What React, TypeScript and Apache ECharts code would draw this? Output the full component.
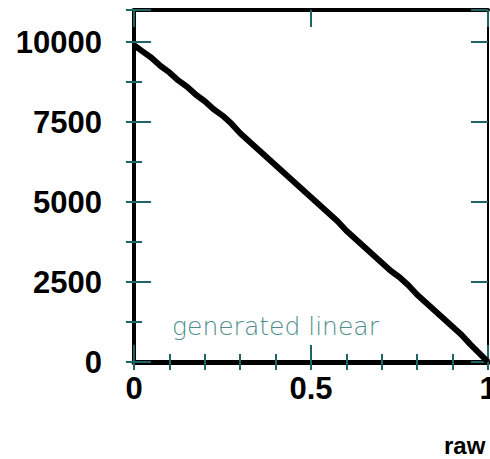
import React, { useEffect, useRef } from "react";
import * as echarts from "echarts";

const xValues = [
  0, 0.025, 0.05, 0.075, 0.1, 0.125, 0.15, 0.175, 0.2, 0.225, 0.25, 0.275, 0.3,
  0.325, 0.35, 0.375, 0.4, 0.425, 0.45, 0.475, 0.5, 0.525, 0.55, 0.575, 0.6,
  0.625, 0.65, 0.675, 0.7, 0.725, 0.75, 0.775, 0.8, 0.825, 0.85, 0.875, 0.9,
  0.925, 0.95, 0.975, 1.0,
];
const yValues = [
  9900, 9700, 9500, 9250, 9050, 8800, 8600, 8350, 8150, 7900, 7700, 7450, 7150,
  6900, 6650, 6400, 6150, 5900, 5650, 5400, 5150, 4900, 4650, 4400, 4100, 3850,
  3600, 3350, 3100, 2850, 2650, 2400, 2100, 1850, 1600, 1350, 1100, 850, 550,
  280, 0,
];
const xTickLabels = ["0", "0.5", "1"];
const yTickLabels = ["0", "2500", "5000", "7500", "10000"];
const seriesLabel = "generated linear";
const xAxisTitle = "raw";

const TICK = "#1f6464";

export default function App() {
  const ref = useRef<HTMLDivElement>(null);
  useEffect(() => {
    if (!ref.current) return;
    const chart = echarts.init(ref.current, undefined, { renderer: "svg" });
    const labelFont = {
      fontFamily: "Liberation Sans, Arial, sans-serif",
      fontWeight: "bold" as const,
      fontSize: 31,
      color: "#000",
    };
    const hidden = { show: false };
    const mkX = (pos: "top" | "bottom", major: boolean, showLabel: boolean, lineW: number) => ({
      type: "value" as const,
      position: pos,
      min: 0,
      max: 1,
      interval: major ? 0.5 : 0.1,
      axisLine: lineW > 0 ? { show: true, onZero: false, lineStyle: { color: "#000", width: lineW } } : hidden,
      axisTick: { show: true, inside: true, length: major ? 17 : 8, lineStyle: { color: TICK, width: 2 } },
      axisLabel: showLabel
        ? {
            show: true,
            margin: 11,
            ...labelFont,
            formatter: (v: number) => {
              const s = xTickLabels.find((t) => Math.abs(parseFloat(t) - v) < 1e-9);
              return s ?? "";
            },
          }
        : hidden,
      splitLine: hidden,
    });
    const mkY = (pos: "left" | "right", major: boolean, showLabel: boolean, lineW: number) => ({
      type: "value" as const,
      position: pos,
      min: 0,
      max: 11000,
      interval: major ? 2500 : 1250,
      axisLine: lineW > 0 ? { show: true, onZero: false, lineStyle: { color: "#000", width: lineW } } : hidden,
      axisTick: { show: true, inside: true, length: major ? 17 : 8, lineStyle: { color: TICK, width: 2 } },
      axisLabel: showLabel
        ? {
            show: true,
            margin: 32,
            ...labelFont,
            formatter: (v: number) => {
              const s = yTickLabels.find((t) => Math.abs(parseFloat(t) - v) < 1e-9);
              return s ?? "";
            },
          }
        : hidden,
      splitLine: hidden,
    });
    chart.setOption({
      animation: false,
      backgroundColor: "#fff",
      grid: {
        left: 134,
        right: 2,
        top: 10,
        bottom: 97,
        containLabel: false,
        outerBoundsMode: "none",
      },
      xAxis: [
        mkX("bottom", true, true, 5),
        mkX("bottom", false, false, 0),
        mkX("top", true, false, 4),
        mkX("top", false, false, 0),
      ],
      yAxis: [
        mkY("left", true, true, 4),
        mkY("left", false, false, 0),
        mkY("right", true, false, 2),
        mkY("right", false, false, 0),
      ],
      series: [
        {
          type: "line",
          xAxisIndex: 0,
          yAxisIndex: 0,
          data: xValues.map((x, i) => [x, yValues[i]]),
          showSymbol: false,
          symbol: "none",
          lineStyle: { color: "#000", width: 6 },
          z: 1,
        },
      ],
      graphic: [
        {
          type: "text",
          x: 172,
          y: 326,
          style: {
            text: seriesLabel,
            fontFamily: "DejaVu Sans",
            fontWeight: 200,
            fontSize: 25,
            fill: "#4f8c8c",
            verticalAlign: "middle",
          },
        },
        {
          type: "text",
          x: 444,
          y: 445,
          style: {
            text: xAxisTitle,
            fontFamily: "Liberation Sans, Arial, sans-serif",
            fontWeight: "bold",
            fontSize: 24,
            fill: "#000",
            verticalAlign: "middle",
          },
        },
      ],
    });
    return () => chart.dispose();
  }, []);
  return (
    <div
      ref={ref}
      style={{ position: "fixed", left: 0, top: 0, width: 490, height: 459 }}
    />
  );
}
